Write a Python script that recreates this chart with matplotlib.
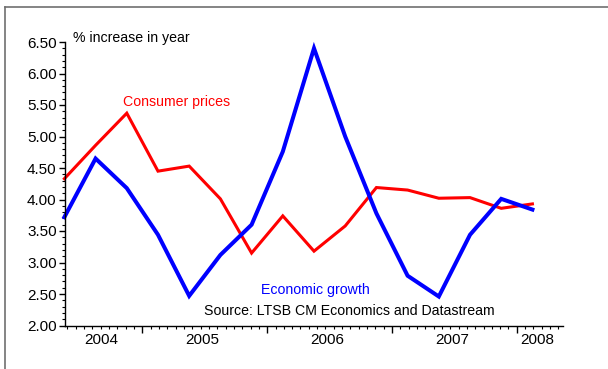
import matplotlib
matplotlib.use("Agg")
import matplotlib.pyplot as plt
from matplotlib.ticker import MultipleLocator, FormatStrFormatter
from matplotlib.lines import Line2D

plt.rcParams['font.family'] = ['Liberation Sans', 'DejaVu Sans']

# =========================
# DATA (quarterly, % increase in year)
# =========================
quarters = ["2004Q2", "2004Q3", "2004Q4",
            "2005Q1", "2005Q2", "2005Q3", "2005Q4",
            "2006Q1", "2006Q2", "2006Q3", "2006Q4",
            "2007Q1", "2007Q2", "2007Q3", "2007Q4",
            "2008Q1"]
consumer_prices = [4.33, 4.86, 5.37, 4.45, 4.53, 4.01, 3.15, 3.74,
                   3.18, 3.58, 4.19, 4.15, 4.02, 4.03, 3.86, 3.93]
economic_growth = [3.72, 4.65, 4.18, 3.44, 2.47, 3.12, 3.60, 4.76,
                   6.40, 5.00, 3.78, 2.79, 2.46, 3.44, 4.01, 3.84]
year_labels = ["2004", "2005", "2006", "2007", "2008"]


def quarter_mid(q):
    # mid-point of quarter as decimal year
    year, n = int(q[:4]), int(q[-1])
    return year + (n - 1) * 0.25 + 0.125


x = [quarter_mid(q) for q in quarters]
x_min, x_max = 2004.38, 2008.37

# =========================
# PLOT
# =========================
fig = plt.figure(figsize=(6.08, 3.69), dpi=100)
ax = fig.add_axes([65 / 608, 43.5 / 369, 498 / 608, 283.5 / 369])

ax.plot(x, consumer_prices, color='#ff0000', linewidth=2.2,
        solid_joinstyle='miter', clip_on=False)
ax.plot(x, economic_growth, color='#0000ff', linewidth=2.9,
        solid_joinstyle='miter', clip_on=False)

ax.set_xlim(x_min, x_max)
ax.set_ylim(2.0, 6.5)

for side in ['top', 'right']:
    ax.spines[side].set_visible(False)
for side in ['left', 'bottom']:
    ax.spines[side].set_linewidth(1.0)

# y axis
ax.yaxis.set_major_locator(MultipleLocator(0.5))
ax.yaxis.set_minor_locator(MultipleLocator(0.1))
ax.yaxis.set_major_formatter(FormatStrFormatter('%.2f'))
ax.tick_params(axis='y', which='major', direction='out', length=4,
               width=1, labelsize=11, pad=2)
ax.tick_params(axis='y', which='minor', direction='out', length=2.5,
               width=0.8)

# x axis: year boundaries as major ticks, labels centred in each year
ax.xaxis.set_major_locator(MultipleLocator(1))
ax.xaxis.set_major_formatter(plt.NullFormatter())
ax.xaxis.set_minor_locator(MultipleLocator(1 / 15))
ax.tick_params(axis='x', which='major', direction='out', length=5, width=1)
ax.tick_params(axis='x', which='minor', direction='out', length=2.5,
               width=0.8)

for lab in year_labels:
    y0 = max(int(lab), x_min)
    y1 = min(int(lab) + 1, x_max)
    ax.text((y0 + y1) / 2 - 0.02, -0.028, lab, transform=ax.get_xaxis_transform(),
            ha='center', va='top', fontsize=11)

# annotations
ax.text(2004.446, 6.56, '% increase in year', fontsize=10.2,
        ha='left', va='center', clip_on=False)
ax.text(2004.847, 5.55, 'Consumer prices', color='#ff0000', fontsize=10.2,
        ha='left', va='center')
ax.text(2005.948, 2.56, 'Economic growth', color='#0000ff', fontsize=10.2,
        ha='left', va='center')
ax.text(2005.49, 2.23, 'Source: LTSB CM Economics and Datastream',
        fontsize=10.2, ha='left', va='center')

# outer frame (left and top edges visible)
fig.add_artist(Line2D([4.5 / 608, 4.5 / 608], [0, 1 - 7 / 369],
                      transform=fig.transFigure, color='#707070', linewidth=1.2))
fig.add_artist(Line2D([4.5 / 608, 1], [1 - 7 / 369, 1 - 7 / 369],
                      transform=fig.transFigure, color='#707070', linewidth=1.2))

fig.savefig('out.png', dpi=100)
